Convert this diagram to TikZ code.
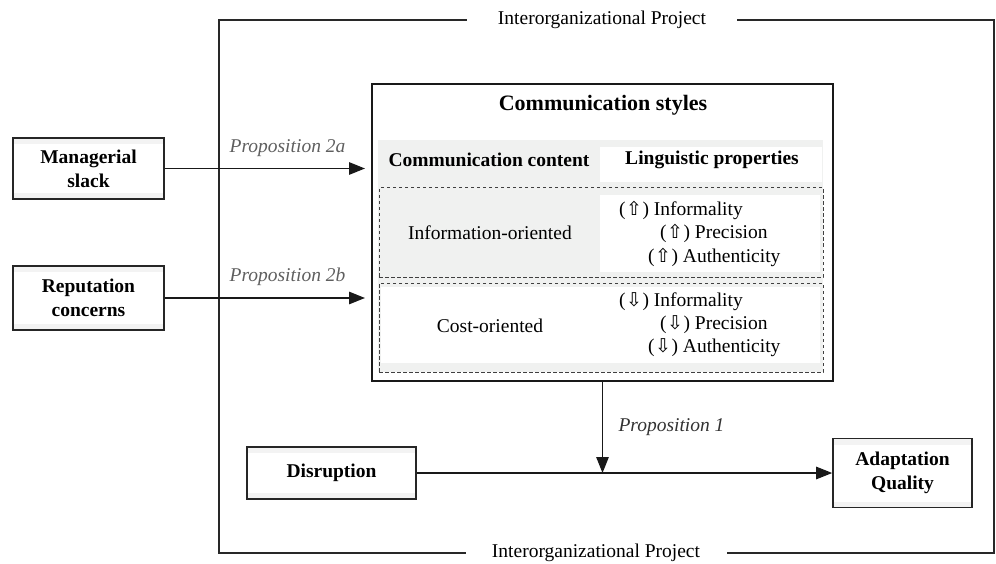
\documentclass[tikz,border=0pt]{standalone}
\usepackage{fontspec}
\setmainfont{Liberation Serif}
\newfontfamily\symfnt{DejaVu Sans}
\usetikzlibrary{arrows.meta}
\definecolor{bandgray}{RGB}{243,243,243}
\definecolor{tablegray}{RGB}{240,241,240}
\definecolor{labgray}{RGB}{95,95,95}
\definecolor{framegray}{RGB}{40,40,40}
\newcommand{\upa}{(\kern0.5pt{\symfnt\fontsize{19}{19}\selectfont ⇧}\kern0.5pt)}
\newcommand{\dna}{(\kern0.5pt{\symfnt\fontsize{19}{19}\selectfont ⇩}\kern0.5pt)}
\tikzset{
  txt/.style={font=\fontsize{19.5}{23.5}\selectfont, inner sep=0pt, align=center},
  btxt/.style={font=\fontsize{19.5}{24}\selectfont\bfseries, inner sep=0pt, align=center},
  proplab/.style={font=\fontsize{19.5}{23}\selectfont\itshape, text=labgray, inner sep=0pt},
  varbox/.style={draw=black!85, line width=1.7pt, fill=white, inner sep=0pt, align=center,
    font=\fontsize{19.5}{24}\selectfont\bfseries,
    path picture={
      \fill[bandgray] (path picture bounding box.north west) rectangle ([yshift=-6pt]path picture bounding box.north east);
      \fill[bandgray] (path picture bounding box.south west) rectangle ([yshift=6pt]path picture bounding box.south east);
    }},
  conn/.style={line width=1.2pt, draw=black!90, -{Triangle[length=16pt,width=12.5pt]}},
  framel/.style={line width=1.1pt, draw=framegray},
  dashbox/.style={draw=black!75, line width=1pt, dash pattern=on 3.5pt off 2.5pt}
}
\begin{document}
\begin{tikzpicture}[x=1pt,y=-1pt]
\useasboundingbox (0,0) rectangle (996,564);
% frame labels
\node[txt] (toplab) at (602,20) {Interorganizational Project};
\node[txt] (botlab) at (596,553) {Interorganizational Project};
\coordinate (tl) at (219,20);
\coordinate (tr) at (994,20);
\coordinate (bl) at (219,553);
\coordinate (br) at (994,553);
\draw[framel] ([xshift=-31pt]toplab.west) -- (tl) -- (bl) -- ([xshift=-26pt]botlab.west);
\draw[framel] ([xshift=31pt]toplab.east) -- (tr) -- (br) -- ([xshift=27pt]botlab.east);

% communication styles box
\node[draw=black!90, line width=2pt, minimum width=461pt, minimum height=297pt, inner sep=0pt] (comm) at (602.5,232.5) {};
\fill[tablegray] (378,140) rectangle (823,372);
\fill[white] (600,147) rectangle (822,182);
\fill[white] (600,195) rectangle (820,272);
\fill[white] (381,287) rectangle (820,363);
\node[dashbox, minimum width=444pt, minimum height=89pt, inner sep=0pt] (inforow) at (601,232.5) {};
\node[dashbox, minimum width=444pt, minimum height=89pt, inner sep=0pt] (costrow) at (601,327.5) {};

\node[font=\fontsize{22}{26}\selectfont\bfseries, inner sep=0pt] (title) at (603,105) {Communication styles};
\node[btxt] (hcontent) at (489,160) {Communication content};
\node[btxt] (hling) at (712,160) {Linguistic properties};
\node[txt] (info) at (490,233) {Information-oriented};
\node[txt] (cost) at (490,326) {Cost-oriented};
\node[txt, anchor=west] (i1) at (619,210) {\upa\ Informality};
\node[txt, anchor=west] (i2) at (660,233) {\upa\ Precision};
\node[txt, anchor=west] (i3) at (648,257) {\upa\ Authenticity};
\node[txt, anchor=west] (c1) at (619,302) {\dna\ Informality};
\node[txt, anchor=west] (c2) at (660,325) {\dna\ Precision};
\node[txt, anchor=west] (c3) at (648,348) {\dna\ Authenticity};

% antecedent boxes
\node[varbox, minimum width=151pt, minimum height=61pt] (mslack) at (88.5,168.5) {Managerial\\slack};
\node[varbox, minimum width=151pt, minimum height=64pt] (repcon) at (88.5,298) {Reputation\\concerns};
\node[varbox, minimum width=169pt, minimum height=52pt] (disr) at (331.5,473) {Disruption};
\node[varbox, minimum width=139pt, minimum height=69pt] (adapt) at (902.5,473) {Adaptation\\Quality};

% connectors
\draw[conn, shorten >=6pt] (mslack.east) -- (mslack.east -| comm.west);
\draw[conn, shorten >=6pt] (repcon.east) -- (repcon.east -| comm.west);
\coordinate (junc) at (comm.south |- disr.east);
\draw[conn] (disr.east) -- (adapt.west);
\draw[conn] (comm.south) -- (junc);

\node[proplab] (p2a) at (287.5,148) {Proposition 2a};
\node[proplab] (p2b) at (287.5,277) {Proposition 2b};
\node[proplab, text=black!80] (p1) at (671.5,427) {Proposition 1};
\end{tikzpicture}
\end{document}
